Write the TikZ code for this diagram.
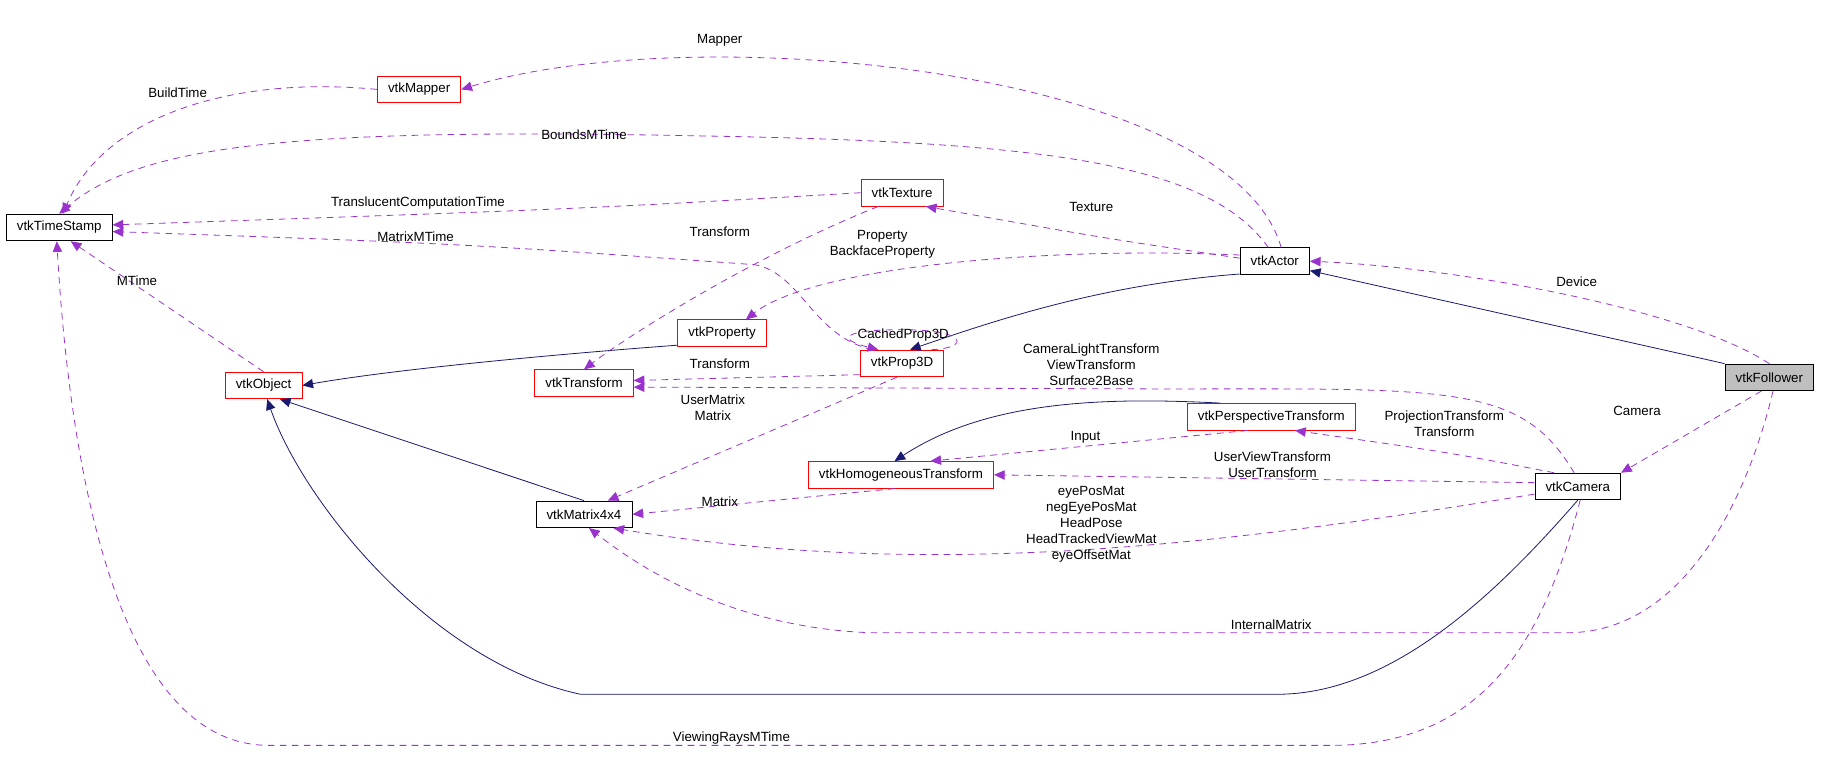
\documentclass[tikz,border=0pt]{standalone}
\usepackage{fontspec}
\setmainfont{Liberation Sans}
\usepackage{xcolor}
\usetikzlibrary{arrows.meta,positioning}

\definecolor{usecol}{HTML}{9A32CD}
\definecolor{inhcol}{HTML}{191970}

\begin{document}
\begin{tikzpicture}[
    x=0.871pt, y=-0.871pt,
    font=\fontsize{10}{12}\selectfont,
    cls/.style={rectangle, draw, line width=0.6pt, minimum height=20pt, inner xsep=8pt, fill=white},
    redcls/.style={cls, draw=red},
    inh/.style={draw=inhcol, line width=0.6pt, -{Triangle[length=8pt,width=7pt]}},
    use/.style={draw=usecol, line width=0.6pt, dash pattern=on 5pt off 4pt, -{Triangle[length=8pt,width=7pt,fill=usecol]}},
    lbl/.style={align=center, inner sep=1pt}
]
    \useasboundingbox (0,0) rectangle (1568.5,667.5);

    % Classes
    \node[cls] (ts) at (51,196) {vtkTimeStamp};
    \node[redcls] (map) at (361,77) {vtkMapper};
    \node[redcls] (tex) at (777,166) {vtkTexture};
    \node[cls] (act) at (1098,225) {vtkActor};
    \node[cls, fill=black!25] (fol) at (1524,325) {vtkFollower};
    \node[redcls] (prop) at (622,287) {vtkProperty};
    \node[redcls] (obj) at (227,332) {vtkObject};
    \node[redcls] (tr) at (503,330) {vtkTransform};
    \node[redcls] (p3d) at (777,313) {vtkProp3D};
    \node[redcls] (persp) at (1095,359) {vtkPerspectiveTransform};
    \node[redcls] (hom) at (776,409) {vtkHomogeneousTransform};
    \node[cls] (mat) at (503,443) {vtkMatrix4x4};
    \node[cls] (cam) at (1359,419) {vtkCamera};

    % Inheritance
    \draw[inh] (fol.north west) -- (act.-15);
    \draw[inh] (act.200) .. controls (950,245) and (860,275) .. (p3d.60);
    \draw[inh] (prop.195) .. controls (480,305) and (340,318) .. (obj.east);
    \draw[inh] (mat.north) -- (obj.-40);
    \draw[inh] (cam.south) .. controls (1290,510) and (1200,598) .. (1100,598)
        -- (500,598) .. controls (370,570) and (260,430) .. (obj.-75);
    \draw[inh] (persp.165) .. controls (950,342) and (850,345) .. (hom.115);

    % Usage
    \draw[use] (map.west) .. controls (200,65) and (90,100) .. (ts.75);
    \draw[use] (act.65) .. controls (1060,60) and (600,15) .. (map.east);
    \draw[use] (act.115) .. controls (1040,140) and (900,122) .. (600,117)
        .. controls (250,110) and (120,125) .. (ts.north);
    \draw[use] (tex.west) .. controls (500,180) .. ([yshift=2pt]ts.east);
    \draw[use] (p3d.155) .. controls (700,290) and (690,235) .. (650,228)
        .. controls (400,210) .. ([yshift=-3pt]ts.east);
    \draw[use] (obj.north) -- (ts.-50);
    \draw[use] (cam.-80) .. controls (1330,550) and (1280,640) .. (1150,642)
        -- (230,642) .. controls (100,640) and (60,400) .. (ts.-100);
    \draw[use] (act.175) .. controls (950,205) .. (tex.-30);
    \draw[use] (act.170) .. controls (900,212) and (700,230) .. (prop.30);
    \draw[use] (fol.north) .. controls (1450,265) and (1250,230) .. (act.east);
    \draw[use] (fol.-120) -- (cam.north east);
    \draw[use] (fol.-75) .. controls (1500,450) and (1440,545) .. (1350,545)
        -- (750,545) .. controls (620,540) and (540,480) .. (mat.-70);
    \draw[use] (tex.-150) .. controls (650,220) and (540,290) .. (tr.north);
    \draw[use] (p3d.25) .. controls (835,300) and (835,284) .. (777,284)
        .. controls (725,284) and (720,292) .. (p3d.150);
    \draw[use] (p3d.195) -- ([yshift=2pt]tr.east);
    \draw[use] (cam.105) .. controls (1310,330) and (1250,335) .. (1000,335)
        -- ([yshift=-3pt]tr.east);
    \draw[use] (p3d.-110) -- (mat.30);
    \draw[use] (hom.-115) -- (mat.east);
    \draw[use] (cam.150) .. controls (1250,390) .. (persp.-30);
    \draw[use] (cam.175) -- (hom.east);
    \draw[use] (cam.190) .. controls (1050,470) and (800,500) .. (mat.-25);
    \draw[use] (persp.-150) -- (hom.25);

    % Labels
    \node[lbl] (lbuild) at (153,80) {BuildTime};
    \node[lbl] (lmapper) at (620,35) {Mapper};
    \node[lbl] (lbounds) at (503,116) {BoundsMTime};
    \node[lbl] (ltrans) at (360,175) {TranslucentComputationTime};
    \node[lbl] (lmmtime) at (358,204) {MatrixMTime};
    \node[lbl] (lmtime) at (118,242) {MTime};
    \node[lbl] (lrays) at (630,636) {ViewingRaysMTime};
    \node[lbl] (ltexture) at (940,178) {Texture};
    \node[lbl] (lprop) at (760,210) {Property\\BackfaceProperty};
    \node[lbl] (ldevice) at (1358,243) {Device};
    \node[lbl] (lcamera) at (1410,354) {Camera};
    \node[lbl] (linternal) at (1095,538) {InternalMatrix};
    \node[lbl] (ltextr) at (620,200) {Transform};
    \node[lbl] (lcached) at (778,289) {CachedProp3D};
    \node[lbl] (lp3dtr) at (620,313) {Transform};
    \node[lbl] (lcamtr) at (940,314) {CameraLightTransform\\ViewTransform\\Surface2Base};
    \node[lbl] (luser) at (614,351) {UserMatrix\\Matrix};
    \node[lbl] (lhommat) at (620,432) {Matrix};
    \node[lbl] (lproj) at (1244,365) {ProjectionTransform\\Transform};
    \node[lbl] (luview) at (1096,400) {UserViewTransform\\UserTransform};
    \node[lbl] (leye) at (940,452) {eyePosMat\\negEyePosMat\\HeadPose\\HeadTrackedViewMat\\eyeOffsetMat};
    \node[lbl] (linput) at (935,377) {Input};
\end{tikzpicture}
\end{document}
